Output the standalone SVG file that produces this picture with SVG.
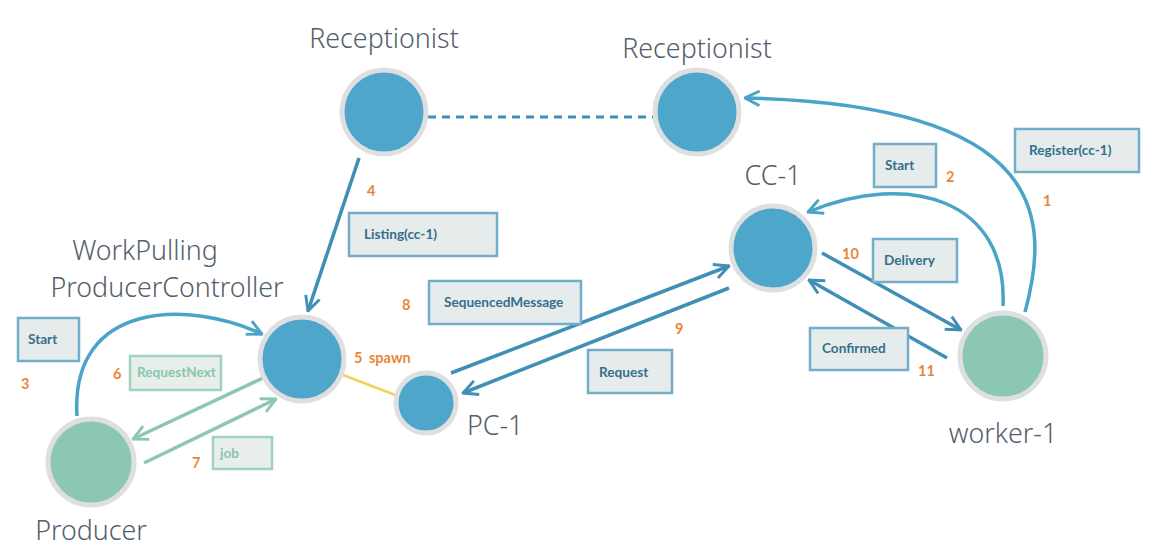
<svg xmlns="http://www.w3.org/2000/svg" width="1156" height="559" viewBox="0 0 1156 559">
<style>
.lbl{font-family:"Noto Sans","Open Sans",sans-serif;font-size:26.8px;font-weight:300;fill:#555e6b}
.node{stroke:#dedfe0;stroke-width:5}
.blue{fill:#4ea6ca}
.green{fill:#8cc7b3}
.box{fill:#e6eceb;stroke:#72adc9;stroke-width:2.5}
.gbox{fill:#e8efeb;stroke:#9fd3bf;stroke-width:2.5}
.bt{font-family:Lato,"Open Sans",sans-serif;font-size:13.6px;font-weight:bold;fill:#346f8c}
.gt{font-family:Lato,"Open Sans",sans-serif;font-size:13.6px;font-weight:bold;fill:#86c6ad}
.num{font-family:Lato,"Open Sans",sans-serif;font-size:14.5px;font-weight:bold;fill:#e8873a}
.c1{fill:none;stroke:#4aa3c8;stroke-width:3.5}
.c2{fill:none;stroke:#3f8fb6;stroke-width:3.5}
.cg{fill:none;stroke:#8cc7b3;stroke-width:3.5}
</style>
<defs>
<marker id="ab" viewBox="0 0 12 12" refX="11" refY="6" markerWidth="5" markerHeight="5" orient="auto" markerUnits="strokeWidth">
<path d="M1,1 L11,6 L1,11" fill="none" stroke="#4aa3c8" stroke-width="2"/>
</marker>
<marker id="ad" viewBox="0 0 12 12" refX="11" refY="6" markerWidth="5" markerHeight="5" orient="auto" markerUnits="strokeWidth">
<path d="M1,1 L11,6 L1,11" fill="none" stroke="#3f8fb6" stroke-width="2"/>
</marker>
<marker id="ag" viewBox="0 0 12 12" refX="11" refY="6" markerWidth="5" markerHeight="5" orient="auto" markerUnits="strokeWidth">
<path d="M1,1 L11,6 L1,11" fill="none" stroke="#8cc7b3" stroke-width="2"/>
</marker>
</defs>
<rect width="1156" height="559" fill="#ffffff"/>

<g id="connectors">
<line x1="428" y1="117" x2="658" y2="117" stroke="#3f8fb6" stroke-width="3" stroke-dasharray="8,6"/>
<line class="c2" x1="359" y1="158" x2="308" y2="311" marker-end="url(#ad)"/>
<path class="c1" d="M77,416 C70,300 190,300 262,334" marker-end="url(#ab)"/>
<line class="cg" x1="263" y1="378" x2="133" y2="439" marker-end="url(#ag)"/>
<line class="cg" x1="144" y1="463" x2="276" y2="399" marker-end="url(#ag)"/>
<line x1="343" y1="375" x2="398" y2="396" stroke="#f0d35a" stroke-width="2.5"/>
<line class="c2" x1="451" y1="373" x2="729" y2="266" marker-end="url(#ad)"/>
<line class="c2" x1="729" y1="288" x2="463" y2="393" marker-end="url(#ad)"/>
<line class="c2" x1="822" y1="253" x2="961" y2="330" marker-end="url(#ad)"/>
<line class="c2" x1="947" y1="358" x2="809" y2="280" marker-end="url(#ad)"/>
<path class="c1" d="M1003,306 C1008,200 910,170 808,212" marker-end="url(#ab)"/>
<path class="c1" d="M1025,312 C1050,220 1050,105 745,98" marker-end="url(#ab)"/>
</g>

<g id="receptionist1">
<circle class="node blue" cx="384" cy="112" r="42"/>
<text class="lbl" x="384" y="48" text-anchor="middle">Receptionist</text>
</g>
<g id="receptionist2">
<circle class="node blue" cx="697" cy="112" r="42"/>
<text class="lbl" x="697" y="58" text-anchor="middle">Receptionist</text>
</g>
<g id="cc1">
<circle class="node blue" cx="773" cy="248" r="42"/>
<text class="lbl" x="773" y="185" text-anchor="middle">CC-1</text>
</g>
<g id="worker1">
<circle class="node green" cx="1003" cy="356" r="43"/>
<text class="lbl" x="1003" y="443" text-anchor="middle">worker-1</text>
</g>
<g id="wppc">
<circle class="node blue" cx="302" cy="359" r="42"/>
<text class="lbl" x="145" y="260" text-anchor="middle">WorkPulling</text>
<text class="lbl" x="167" y="297" text-anchor="middle">ProducerController</text>
</g>
<g id="producer">
<circle class="node green" cx="91" cy="462" r="43"/>
<text class="lbl" x="91" y="540" text-anchor="middle">Producer</text>
</g>
<g id="pc1">
<circle class="node blue" cx="426" cy="403" r="30"/>
<text class="lbl" x="467" y="435">PC-1</text>
</g>

<g id="labels">
<rect class="box" x="18" y="318" width="61" height="43"/>
<text class="bt" x="28" y="344">Start</text>
<rect class="gbox" x="130" y="356" width="91" height="34"/>
<text class="gt" x="137" y="377">RequestNext</text>
<rect class="gbox" x="213" y="437" width="59" height="32"/>
<text class="gt" x="220" y="458">job</text>
<rect class="box" x="349" y="213" width="148" height="43"/>
<text class="bt" x="364" y="239">Listing(cc-1)</text>
<rect class="box" x="429" y="281" width="152" height="43"/>
<text class="bt" x="444" y="307">SequencedMessage</text>
<rect class="box" x="588" y="350" width="84" height="43"/>
<text class="bt" x="599" y="377">Request</text>
<rect class="box" x="810" y="328" width="98" height="42"/>
<text class="bt" x="822" y="353">Confirmed</text>
<rect class="box" x="874" y="144" width="62" height="43"/>
<text class="bt" x="885" y="170">Start</text>
<rect class="box" x="1015" y="129" width="124" height="43"/>
<text class="bt" x="1029" y="155">Register(cc-1)</text>
<rect class="box" x="873" y="239" width="84" height="43"/>
<text class="bt" x="884" y="265">Delivery</text>

<text class="num" x="21" y="389">3</text>
<text class="num" x="113" y="379">6</text>
<text class="num" x="192" y="468">7</text>
<text class="num" x="367" y="196">4</text>
<text class="num" x="402" y="310">8</text>
<text class="num" x="354" y="363">5</text>
<text class="num" x="369" y="363">spawn</text>
<text class="num" x="675" y="334">9</text>
<text class="num" x="842" y="259">10</text>
<text class="num" x="946" y="182">2</text>
<text class="num" x="1043" y="206">1</text>
<text class="num" x="918" y="376">11</text>
</g>
</svg>
